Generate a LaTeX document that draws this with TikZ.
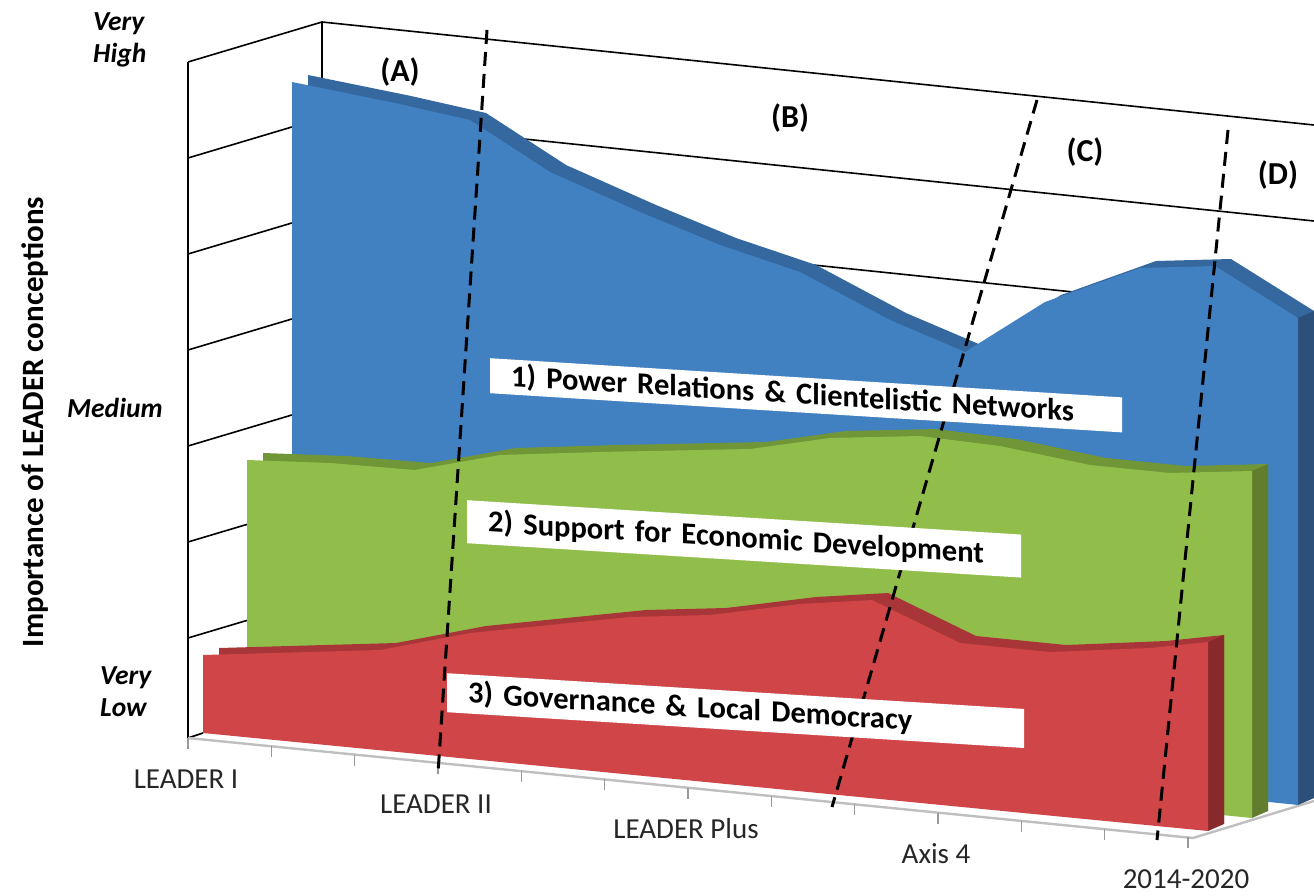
\documentclass[tikz,border=0pt]{standalone}
\usepackage{fontspec}
\setmainfont{Carlito}
\tikzset{>=latex}

\definecolor{bluefront}{RGB}{65,128,193}
\definecolor{bluetop}{RGB}{52,104,158}
\definecolor{blueside}{RGB}{44,80,122}
\definecolor{greenfront}{RGB}{145,190,74}
\definecolor{greentop}{RGB}{112,150,56}
\definecolor{greenside}{RGB}{98,125,46}
\definecolor{redfront}{RGB}{207,69,72}
\definecolor{redtop}{RGB}{168,54,56}
\definecolor{redside}{RGB}{136,42,44}
\definecolor{axistext}{RGB}{38,38,38}

\tikzset{
  grid line/.style={line width=1.6pt, black},
  floor edge/.style={line width=2.4pt, black!25},
  tick line/.style={line width=1.4pt, black!40},
  period/.style={line width=3pt, dash pattern=on 14pt off 8pt},
  level label/.style={font=\bfseries\itshape\fontsize{27.5}{32}\selectfont, align=left, anchor=west, inner sep=0pt},
  category/.style={font=\fontsize{29}{31}\selectfont, text=axistext, inner sep=1pt},
  period label/.style={font=\bfseries\fontsize{32}{34}\selectfont},
  series label/.style={fill=white, font=\bfseries\fontsize{30.5}{32}\selectfont, anchor=north west,
    inner xsep=21pt, inner ysep=0pt, align=left, transform shape, yslant=-0.062},
}

\def\bluearea{(292,82) -- (395,103) -- (470,120) -- (550,172) -- (640,212) -- (720,245)
  -- (800,272) -- (890,320) -- (965,352) -- (1045,302) -- (1140,268) -- (1215,266)
  -- (1298,318) -- (1298,805) -- (292,700) -- cycle}
\def\greenarea{(247,460) -- (330,463) -- (415,470) -- (500,455) -- (600,452) -- (750,449)
  -- (830,438) -- (920,436) -- (1000,446) -- (1090,465) -- (1170,473) -- (1252,471)
  -- (1252,818) -- (247,718) -- cycle}
\def\redarea{(203,655) -- (380,650) -- (470,633) -- (630,617) -- (710,615) -- (800,604)
  -- (872,600) -- (960,643) -- (1050,652) -- (1150,648) -- (1208,642)
  -- (1208,831) -- (203,733) -- cycle}

\begin{document}
\begin{tikzpicture}[x=1pt,y=-1pt]
  \useasboundingbox (0,0) rectangle (1314,896);
  % walls
  \foreach \k in {0,...,6} {
    \draw[grid line] (188,{62+96*\k}) -- (322,{22+96*\k}) -- (1314,{125+96*\k});
  }
  \draw[grid line] (188,62) -- (188,738);
  \draw[grid line] (322,22) -- (322,120);
  % floor
  \draw[grid line] (188,738) -- (203,733);
  \draw[floor edge] (188,738) -- (1193,838) -- (1314,801);
  \foreach \i in {0,...,12}
    \draw[tick line] ({188+83.33*\i},{738+8.29*\i}) -- ++(0,11);
  % 1) blue, at the back
  \fill[bluetop, shift={(16,-7)}] \bluearea;
  \fill[blueside] (1298,318) -- (1314,311) -- (1314,798) -- (1298,805) -- cycle;
  \fill[bluefront] \bluearea;
  % 2) green
  \fill[greentop, shift={(16,-7)}] \greenarea;
  \fill[greenside] (1252,471) -- (1268,464) -- (1268,811) -- (1252,818) -- cycle;
  \fill[greenfront] \greenarea;
  % 3) red, in front
  \fill[redtop, shift={(16,-7)}] \redarea;
  \fill[redside] (1208,642) -- (1224,635) -- (1224,824) -- (1208,831) -- cycle;
  \fill[redfront] \redarea;
  % periods
  \coordinate (ab top) at (487,30);
  \coordinate (ab bottom) at (438,773);
  \coordinate (bc top) at (1037,100);
  \coordinate (bc bottom) at (832,807);
  \coordinate (cd top) at (1228,130);
  \coordinate (cd bottom) at (1157,840);
  \draw[period] (ab top) -- (ab bottom);
  \draw[period] (bc top) -- (bc bottom);
  \draw[period] (cd top) -- (cd bottom);
  \node[period label] (pa) at (400,72) {(A)};
  \node[period label] (pb) at (790,118) {(B)};
  \node[period label] (pc) at (1085,152) {(C)};
  \node[period label] (pd) at (1278,175) {(D)};
  % series labels
  \node[series label, text width=590pt, minimum height=35pt] (power) at (490,358)
    {1) Power Relations \& Clientelistic Networks};
  \node[series label, text width=512pt, minimum height=43pt] (support) at (467,500)
    {2) Support for Economic Development};
  \node[series label, text width=535pt, minimum height=39pt] (governance) at (447,673)
    {3) Governance \& Local Democracy};
  % axes
  \node[level label] (vhigh) at (93,40) {Very\\High};
  \node[level label] (medium) at (67,408) {Medium};
  \node[level label] (vlow) at (100,692) {Very\\Low};
  \node[font=\bfseries\fontsize{31}{33}\selectfont, rotate=90] (ytitle) at (35,422)
    {Importance of LEADER conceptions};
  \foreach \lab [count=\i from 0] in {LEADER I, LEADER II, LEADER Plus, Axis 4, 2014-2020}
    \node[category] (cat\i) at ({186+250*\i},{779+25*\i}) {\lab};
\end{tikzpicture}
\end{document}
